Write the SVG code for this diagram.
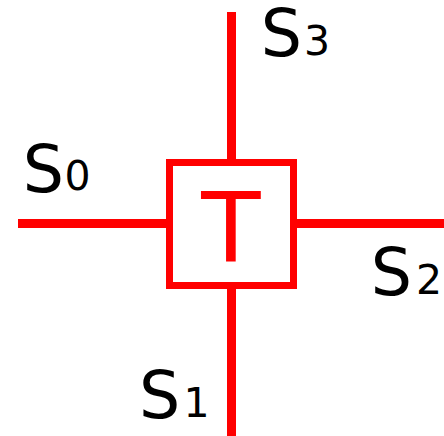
<svg xmlns="http://www.w3.org/2000/svg" width="444" height="436" viewBox="0 0 444 436">
<style>
.ln{stroke:#ff0000;stroke-width:9;fill:none}
.bx{stroke:#ff0000;stroke-width:7;fill:#ffffff}
.lb{font-family:"DejaVu Sans",Verdana,sans-serif;font-size:65px;fill:#000000}
.sub{font-size:41px}
.t{font-family:"DejaVu Sans",Verdana,sans-serif;font-size:97px;fill:#ff0000;text-anchor:middle}
</style>
<rect width="444" height="436" fill="#ffffff"/>
<g id="connectors">
<line class="ln" x1="231.5" y1="12" x2="231.5" y2="162"/>
<line class="ln" x1="231.5" y1="286" x2="231.5" y2="436"/>
<line class="ln" x1="18" y1="223.5" x2="169" y2="223.5"/>
<line class="ln" x1="294" y1="223.5" x2="444" y2="223.5"/>
</g>
<g id="T">
<rect class="bx" x="169.5" y="162.5" width="124" height="123"/>
<text class="t" x="231" y="261">T</text>
</g>
<g id="S0"><text class="lb" x="22.7" y="192">S<tspan class="sub" x="64.4" y="190">0</tspan></text></g>
<g id="S3"><text class="lb" x="260.7" y="56">S<tspan class="sub" x="304" y="55">3</tspan></text></g>
<g id="S2"><text class="lb" x="370.7" y="295">S<tspan class="sub" x="416" y="294">2</tspan></text></g>
<g id="S1"><text class="lb" x="139" y="418">S<tspan class="sub" x="183.6" y="417">1</tspan></text></g>
</svg>
